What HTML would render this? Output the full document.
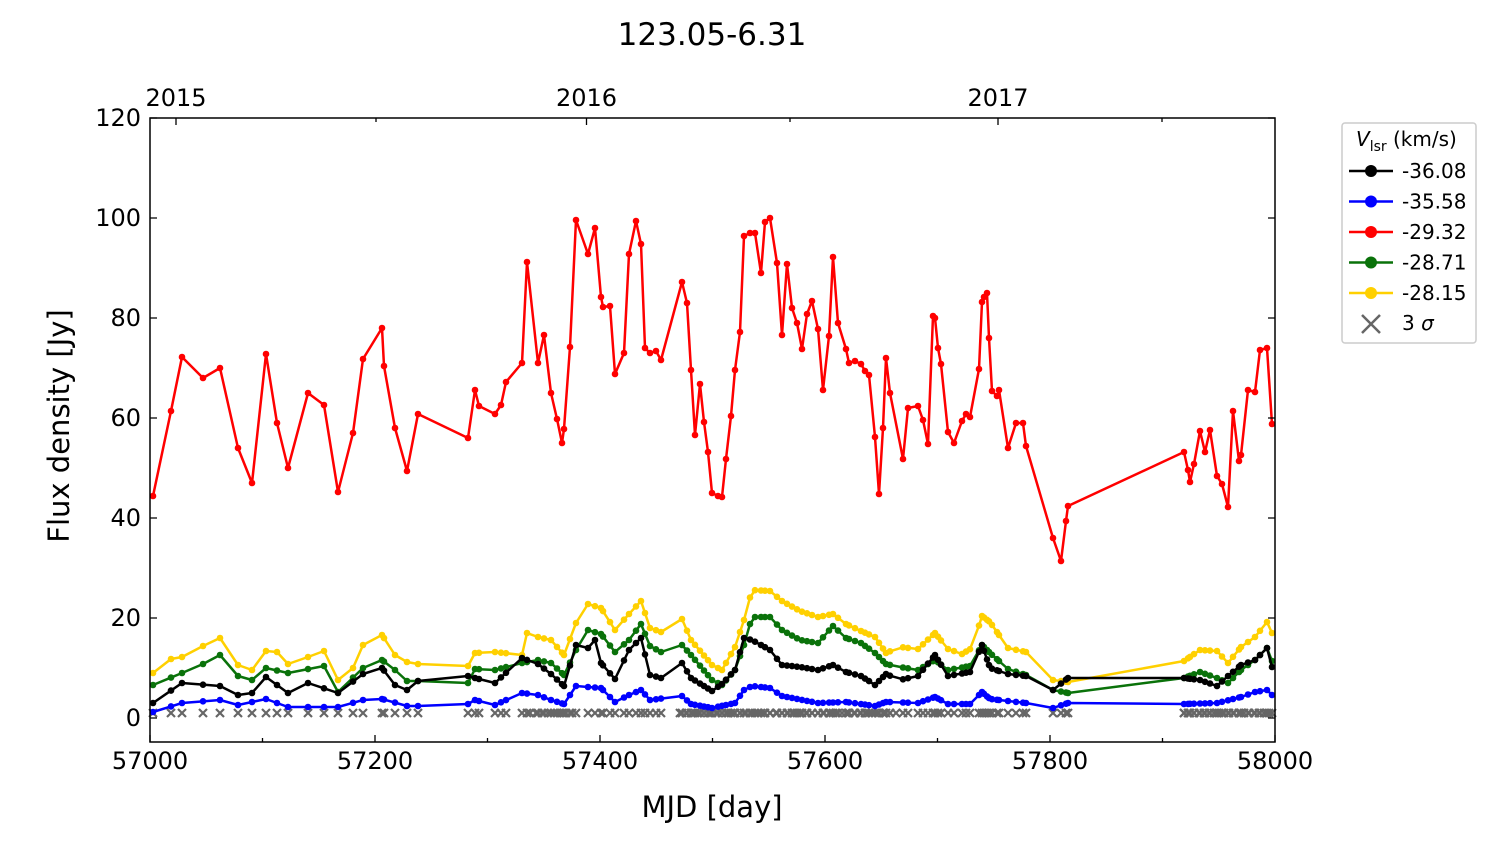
<!DOCTYPE html>
<html><head><meta charset="utf-8"><style>
body{margin:0;background:#fff;}
svg text{font-family:"DejaVu Sans","Liberation Sans",sans-serif;fill:#000;}
</style></head><body>
<svg id="s" width="1500" height="844" xmlns="http://www.w3.org/2000/svg">
<rect width="1500" height="844" fill="#fff"/>
<text x="712" y="45" font-size="31" text-anchor="middle">123.05-6.31</text>
<g id="plot"></g>
<rect x="150" y="118" width="1125" height="624" fill="none" stroke="#000" stroke-width="1.5"/>
<g id="ax"></g>
<text x="712" y="817" font-size="29" text-anchor="middle">MJD [day]</text>
<text transform="translate(69,426) rotate(-90)" font-size="29" text-anchor="middle">Flux density [Jy]</text>
<rect x="1342" y="123" width="134" height="220" rx="3" fill="#fff" stroke="#ccc" stroke-width="1.5"/>
<text x="1356" y="146" font-size="20"><tspan font-style="italic">V</tspan><tspan font-size="14" dy="5">lsr</tspan><tspan dy="-5"> (km/s)</tspan></text>
<g id="leg"></g>
</svg>
<script>
const NS="http://www.w3.org/2000/svg";
function el(p,t,a,txt){const e=document.createElementNS(NS,t);for(const k in a)e.setAttribute(k,a[k]);if(txt!==undefined)e.textContent=txt;p.appendChild(e);return e;}
const plot=document.getElementById('plot'),ax=document.getElementById('ax'),leg=document.getElementById('leg');
const red=[[153,496],[171,411],[182,357],[203,378],[220,368],[238,448],[252,483],[266,354],[277,423],[288,468],[308,393],[324,405],[338,492],[353,433],[363,359],[382,328],[384,366],[395,428],[407,471],[418,414],[468,438],[475,390],[479,406],[495,414],[501,405],[506,382],[522,363],[527,262],[538,363],[544,335],[551,393],[557,419],[562,443],[564,429],[570,347],[576,220],[588,254],[595,228],[601,297],[603,307],[610,306],[615,374],[624,353],[629,254],[636,221],[641,244],[645,348],[650,353],[656,351],[661,360],[682,282],[687,303],[691,370],[695,435],[700,384],[704,422],[708,452],[712,493],[718,496],[722,497],[726,459],[731,416],[735,370],[740,332],[744,236],[750,233],[755,233],[761,273],[765,222],[770,218],[777,263],[782,335],[787,264],[792,308],[797,323],[802,349],[807,314],[812,301],[818,329],[823,390],[829,336],[833,257],[838,323],[846,349],[849,363],[855,361],[861,364],[865,371],[869,375],[875,437],[879,494],[883,428],[886,358],[890,393],[903,459],[908,408],[918,406],[923,420],[928,444],[933,316],[935,318],[938,348],[941,364],[948,432],[954,443],[962,421],[966,414],[970,417],[979,369],[982,302],[984,297],[987,293],[989,338],[992,391],[997,396],[999,390],[1008,448],[1016,423],[1023,423],[1026,446],[1053,538],[1061,561],[1066,521],[1068,506],[1184,452],[1188,470],[1190,482],[1194,464],[1200,431],[1205,452],[1210,430],[1217,476],[1222,484],[1228,507],[1233,411],[1239,461],[1241,455],[1248,390],[1255,392],[1260,350],[1267,348],[1272,424]];
const yel=[[153,673],[171,659],[182,657],[203,646],[220,638],[238,665],[252,670],[266,651],[277,652],[288,664],[308,657],[324,651],[338,680],[353,668],[363,645],[382,635],[395,655],[407,662],[418,664],[468,666],[475,653],[495,652],[522,655],[527,633],[538,637],[551,640],[564,655],[576,623],[588,604],[601,608],[615,630],[629,614],[641,601],[650,628],[661,632],[682,619],[691,640],[712,665],[722,670],[735,647],[744,620],[752,590],[770,591],[782,601],[800,611],[818,617],[833,614],[846,624],[861,631],[875,637],[886,653],[900,647],[918,649],[935,633],[948,649],[962,654],[972,648],[982,616],[990,622],[1008,648],[1026,652],[1053,680],[1068,682],[1184,661],[1200,650],[1217,651],[1228,663],[1241,647],[1255,637],[1267,622],[1272,633]];
const grn=[[153,685],[182,673],[203,664],[220,655],[238,676],[252,680],[266,668],[288,673],[324,666],[338,692],[363,668],[382,660],[395,670],[407,681],[418,681],[468,683],[475,669],[495,670],[522,663],[538,660],[551,663],[564,675],[576,650],[588,630],[601,634],[615,652],[629,640],[641,624],[650,646],[661,652],[682,645],[691,655],[712,680],[722,685],[735,670],[744,645],[752,617],[770,617],[782,630],[800,640],[818,643],[833,626],[846,638],[861,643],[875,653],[886,664],[900,667],[918,670],[935,660],[948,670],[970,666],[982,645],[990,653],[1008,669],[1026,675],[1053,690],[1068,693],[1184,678],[1200,672],[1217,678],[1228,683],[1241,670],[1255,660],[1267,648],[1272,661]];
const blk=[[153,703],[182,683],[220,686],[238,695],[252,693],[266,677],[288,693],[308,683],[338,693],[363,674],[382,668],[395,685],[407,690],[418,681],[468,676],[475,678],[495,683],[522,658],[538,664],[551,674],[564,686],[576,645],[588,648],[595,640],[601,663],[615,679],[629,650],[641,638],[650,675],[661,678],[682,663],[691,678],[712,691],[722,684],[735,670],[744,638],[752,640],[770,650],[782,665],[800,667],[818,670],[833,665],[846,672],[861,676],[875,685],[886,674],[900,680],[918,676],[935,655],[948,676],[970,672],[982,645],[990,668],[1008,674],[1026,676],[1053,690],[1068,678],[1184,678],[1200,680],[1217,686],[1228,676],[1241,665],[1255,660],[1267,648],[1272,667]];
const blu=[[153,712],[182,703],[220,700],[238,705],[266,699],[288,707],[338,707],[363,700],[382,699],[407,706],[418,706],[468,704],[475,700],[495,705],[522,693],[538,695],[551,700],[564,704],[576,686],[601,688],[615,702],[629,695],[641,690],[650,700],[682,696],[691,704],[712,708],[735,703],[744,690],[752,686],[770,688],[782,696],[818,703],[846,702],[875,706],[886,702],[918,703],[935,697],[948,704],[970,704],[982,692],[990,699],[1026,703],[1053,708],[1068,703],[1184,704],[1217,703],[1241,697],[1255,692],[1267,690],[1272,695]];
const xs=red.map(p=>p[0]);
function interp(k,x){for(let i=0;i<k.length-1;i++){if(x>=k[i][0]&&x<=k[i+1][0]){const t=(x-k[i][0])/((k[i+1][0]-k[i][0])||1);return k[i][1]+t*(k[i+1][1]-k[i][1]);}}return x<k[0][0]?k[0][1]:k[k.length-1][1];}
const cx=[];xs.forEach(x=>cx.push(x));for(let x=680;x<=900;x+=6)cx.push(x);for(let x=530;x<=575;x+=6)cx.push(x);for(let x=1184;x<=1272;x+=5)cx.push(x);
cx.forEach(x=>{el(plot,'path',{d:`M${x-4} 709l8 8M${x+4} 709l-8 8`,stroke:'#666','stroke-width':2.2});});
function series(k,c){const pts=xs.map(x=>[x,interp(k,x)]);
el(plot,'polyline',{points:pts.map(p=>p.join(',')).join(' '),fill:'none',stroke:c,'stroke-width':2.5,'stroke-linejoin':'round'});
pts.forEach(p=>el(plot,'circle',{cx:p[0],cy:p[1].toFixed(1),r:3.3,fill:c}));}
series(yel,'#ffd000');series(grn,'#0a720a');series(blk,'#000');series(blu,'#0000ff');
el(plot,'polyline',{points:red.map(p=>p.join(',')).join(' '),fill:'none',stroke:'#ff0000','stroke-width':2.5,'stroke-linejoin':'round'});
red.forEach(p=>el(plot,'circle',{cx:p[0],cy:p[1],r:3.3,fill:'#ff0000'}));
for(let i=0;i<=6;i++){const y=718-i*100;el(ax,'path',{d:`M150 ${y}h7M1275 ${y}h-7`,stroke:'#000','stroke-width':1.3});el(ax,'text',{x:141,y:y+8,'font-size':24,'text-anchor':'end'},String(i*20));}
for(let i=0;i<=10;i++){const x=150+i*112.5;const L=i%2==0?7:4;el(ax,'path',{d:`M${x} 742v-${L}`,stroke:'#000','stroke-width':1.3});if(i%2==0)el(ax,'text',{x:x,y:769,'font-size':24,'text-anchor':'middle'},String(57000+i*100));}
[[176,'2015'],[586.5,'2016'],[998,'2017']].forEach(a=>{el(ax,'path',{d:`M${a[0]} 118v7`,stroke:'#000','stroke-width':1.3});el(ax,'text',{x:a[0],y:106,'font-size':24,'text-anchor':'middle'},a[1]);});
[[376],[790],[1162]].forEach(a=>el(ax,'path',{d:`M${a[0]} 118v4`,stroke:'#000','stroke-width':1.3}));
[['#000','-36.08'],['#0000ff','-35.58'],['#ff0000','-29.32'],['#0a720a','-28.71'],['#ffd000','-28.15']].forEach((l,i)=>{const y=171+i*30.5;el(leg,'path',{d:`M1349 ${y}h44`,stroke:l[0],'stroke-width':2.5});el(leg,'circle',{cx:1371,cy:y,r:6,fill:l[0]});el(leg,'text',{x:1402,y:y+7,'font-size':20},l[1]);});
el(leg,'path',{d:'M1362 315l18 18M1380 315l-18 18',stroke:'#666','stroke-width':2.5});
const t=el(leg,'text',{x:1402,y:330,'font-size':20},'3 ');el(t,'tspan',{'font-style':'italic'},'σ');
</script>
</body></html>
